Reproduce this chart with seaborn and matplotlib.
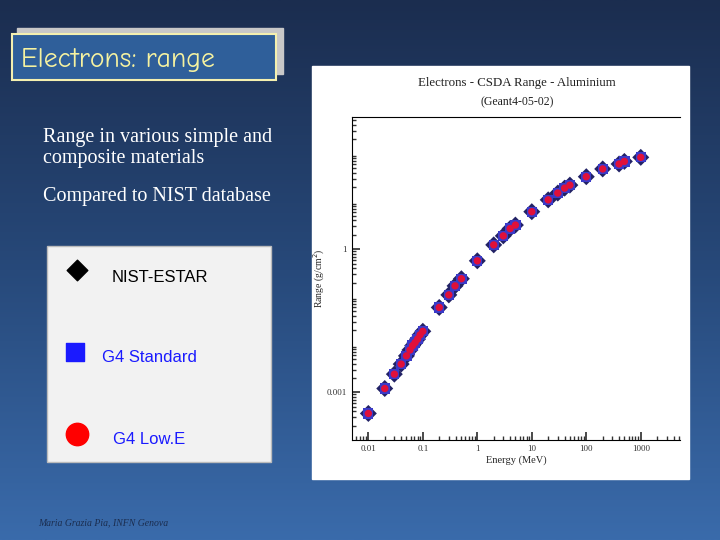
import numpy as np
import pandas as pd
import matplotlib
matplotlib.use("Agg")
import matplotlib.pyplot as plt
import matplotlib.ticker as mt
from matplotlib.patches import Rectangle
from matplotlib.colors import LinearSegmentedColormap
import seaborn as sns

energy = [0.01, 0.02, 0.03, 0.04, 0.05, 0.058, 0.065, 0.072, 0.08, 0.089, 0.1,
          0.2, 0.3, 0.39, 0.51, 1, 2, 3, 4, 5, 10, 20, 30, 40, 50, 100, 200, 400, 500, 1000]
rng = [3.6e-4, 1.2e-3, 2.4e-3, 3.9e-3, 5.8e-3, 7.7e-3, 9.5e-3, 1.1e-2, 1.3e-2, 1.6e-2, 1.9e-2,
       0.060, 0.11, 0.17, 0.24, 0.57, 1.23, 1.9, 2.7, 3.2, 6.1, 10.8, 15, 19, 22, 33, 48, 61, 69, 84]
series = ["NIST-ESTAR", "G4 Standard", "G4 Low.E"]

df = pd.DataFrame({"Energy": energy * 3, "Range": rng * 3,
                   "Series": sum([[s] * len(energy) for s in series], [])})

sns.set_theme(style="white")
plt.rcParams["font.family"] = ["Liberation Serif", "DejaVu Sans"]
W, H = 720, 540
fig = plt.figure(figsize=(7.2, 5.4), dpi=100)

bg = fig.add_axes([0, 0, 1, 1])
grad = np.linspace(0, 1, 256).reshape(-1, 1)
cm = LinearSegmentedColormap.from_list("bg", ["#1b2d4f", "#27497a", "#3a6bab"])
bg.imshow(grad, aspect="auto", cmap=cm, extent=[0, W, H, 0])
bg.set_xlim(0, W); bg.set_ylim(H, 0); bg.axis("off")

bg.add_patch(Rectangle((17, 28), 266, 46, color="#c8c8c8", zorder=1))
bg.add_patch(Rectangle((12, 34), 264, 46, facecolor="#2f5f9a", edgecolor="#f4f0b0", lw=1.5, zorder=2))
bg.text(21, 60, "Electrons: range", color="#f6f2a0", fontsize=20, va="center",
        family=["Comic Neue", "DejaVu Sans"], zorder=3)
bg.text(43, 148, "Range in various simple and\ncomposite materials", color="white",
        fontsize=14.5, va="center", linespacing=1.1)
bg.text(43, 197, "Compared to NIST database", color="white", fontsize=14.5, va="center")

bg.add_patch(Rectangle((47, 246), 224, 216, facecolor="#f2f2f2", edgecolor="#bbbbbb", zorder=2))
bg.scatter([77], [270], marker="D", s=110, color="black", zorder=3)
bg.scatter([75], [352], marker="s", s=180, color="#1a1aff", zorder=3)
bg.scatter([77], [434], marker="o", s=260, color="#ff0000", zorder=3)
bg.text(112, 277, "NIST-ESTAR", color="black", fontsize=12, va="center", family="Liberation Sans", zorder=3)
bg.text(102, 358, "G4 Standard", color="#1a1aff", fontsize=12, va="center", family="Liberation Sans", zorder=3)
bg.text(113, 439, "G4 Low.E", color="#1a1aff", fontsize=12, va="center", family="Liberation Sans", zorder=3)
bg.text(38, 523, "Maria Grazia Pia, INFN Genova", color="#1b2d4f", fontsize=7, style="italic", va="center")

bg.add_patch(Rectangle((312, 66), 377, 413, facecolor="white", zorder=2))
bg.text(517, 83, "Electrons - CSDA Range - Aluminium", fontsize=9.3, ha="center", va="center", color="#222222", zorder=3)
bg.text(517, 102, "(Geant4-05-02)", fontsize=8.5, ha="center", va="center", color="#222222", zorder=3)

x0, x1, y0, y1 = 352, 680, 117, 440
ax = fig.add_axes([x0 / W, 1 - y1 / H, (x1 - x0) / W, (y1 - y0) / H])
ax.set_facecolor("white")
sns.scatterplot(data=df, x="Energy", y="Range", hue="Series", style="Series",
                palette={"NIST-ESTAR": "#222266", "G4 Standard": "#3a3ac8", "G4 Low.E": "#e0103a"},
                markers={"NIST-ESTAR": "D", "G4 Standard": "s", "G4 Low.E": "o"},
                size="Series", sizes={"NIST-ESTAR": 75, "G4 Standard": 55, "G4 Low.E": 28},
                linewidth=0, legend=False, ax=ax, zorder=3)
ax.set_xscale("log"); ax.set_yscale("log")
ax.set_xlim(10 ** -2.3, 10 ** 3.72)
ax.set_ylim(1e-4, 10 ** 2.77)
ax.spines["right"].set_visible(False)
for s in ["left", "bottom", "top"]:
    ax.spines[s].set_color("black"); ax.spines[s].set_linewidth(0.8)
ax.xaxis.set_major_locator(mt.FixedLocator([0.01, 0.1, 1, 10, 100, 1000]))
ax.xaxis.set_major_formatter(mt.FixedFormatter(["0.01", "0.1", "1", "10", "100", "1000"]))
ax.xaxis.set_minor_locator(mt.LogLocator(subs=np.arange(2, 10)))
ax.yaxis.set_major_locator(mt.FixedLocator([1e-3, 1]))
ax.yaxis.set_major_formatter(mt.FixedFormatter(["0.001", "1"]))
ax.yaxis.set_minor_locator(mt.LogLocator(subs=np.arange(2, 10)))
ax.yaxis.set_minor_formatter(mt.NullFormatter())
ax.xaxis.set_minor_formatter(mt.NullFormatter())
ax.tick_params(which="both", direction="in", bottom=True, left=True, top=False, labelsize=6.5, colors="#333333")
ax.tick_params(which="major", length=6)
ax.tick_params(which="minor", length=3)
ax.set_xlabel("Energy (MeV)", fontsize=7.5, labelpad=2)
ax.set_ylabel("Range (g/cm$^2$)", fontsize=7)
ax.yaxis.set_label_coords(-0.075, 0.5)

fig.savefig("out.png", dpi=100)
